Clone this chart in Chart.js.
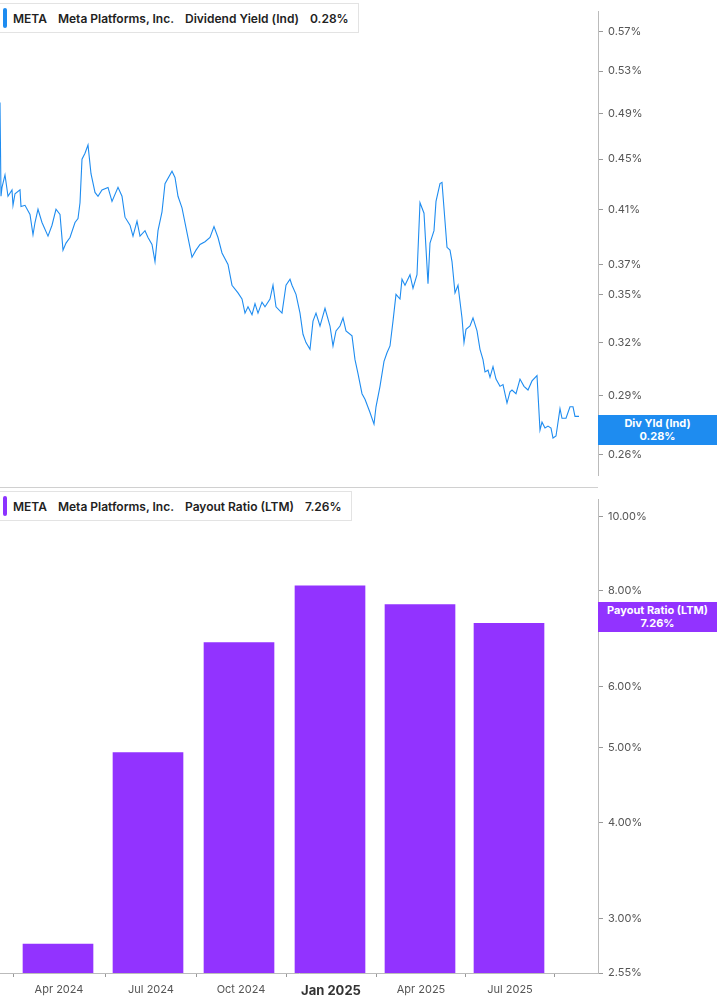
<!DOCTYPE html>
<html>
<head>
<meta charset="utf-8">
<script src="https://cdn.jsdelivr.net/npm/chart.js@4"></script>
<style>
  body { margin: 0; width: 717px; height: 1005px; position: relative; background: #fff; font-family: Inter, "Open Sans", sans-serif; overflow: hidden; }
  #top { position: absolute; left: 0; top: 0; }
  #bottom { position: absolute; left: 0; top: 488px; }
  .sep { position: absolute; left: 0; top: 487px; width: 598px; height: 1px; background: #d0d0d0; }
  .legend { position: absolute; left: 0; height: 28px; background: #fff; border: 1px solid #e3e3e3; border-left: none; font-size: 12px; font-weight: 600; color: #222; display: flex; align-items: center; padding: 0 9px 0 13px; }
  .legend:before { content: ""; position: absolute; left: 3px; top: 4px; bottom: 4px; width: 4px; border-radius: 2px; }
  .legend span { margin-right: 11px; }
  .legend span:last-child { margin-right: 0; }
  #leg1 { top: 3px; } #leg1:before { background: #1e8cf0; }
  #leg2 { top: 491px; } #leg2:before { background: #8c33ff; }
  .tag { position: absolute; left: 598px; width: 119px; color: #fff; font-size: 11px; font-weight: 700; text-align: center; line-height: 13px; padding: 2px 0; }
  #tag1 { top: 415px; background: #1e8cf0; }
  #tag2 { top: 602px; background: #9233ff; }
</style>
</head>
<body>
<canvas id="top" width="717" height="487"></canvas>
<canvas id="bottom" width="717" height="517"></canvas>
<div class="sep"></div>
<div class="legend" id="leg1"><span>META</span><span>Meta Platforms, Inc.</span><span>Dividend Yield (Ind)</span><span>0.28%</span></div>
<div class="legend" id="leg2"><span>META</span><span>Meta Platforms, Inc.</span><span>Payout Ratio (LTM)</span><span>7.26%</span></div>
<div class="tag" id="tag1">Div Yld (Ind)<br>0.28%</div>
<div class="tag" id="tag2">Payout Ratio (LTM)<br>7.26%</div>
<script>
// dividend yield series (x = day index)
const yieldDays = [0,1,2,5,8,12,13,15,20,21,25,30,33,35,38,42,48,52,56,60,63,66,70,75,78,80,82,85,88,91,95,98,102,108,112,118,122,125,130,133,137,140,145,148,152,155,158,162,165,172,175,178,182,188,192,196,200,205,210,214,218,222,228,232,238,242,245,248,252,255,258,262,265,270,273,276,282,286,290,292,296,300,303,306,310,313,316,320,325,330,333,336,340,343,346,352,355,358,362,365,370,374,376,380,384,387,390,393,396,400,402,405,410,413,417,420,424,428,430,434,436,440,442,445,447,450,452,455,458,462,464,466,470,473,477,480,483,485,488,490,493,496,500,503,507,510,512,516,520,524,528,532,537,540,542,545,548,551,553,556,560,562,566,570,573,575,579];
const yieldVals = [0.50,0.42,0.427,0.437,0.42,0.425,0.413,0.422,0.425,0.412,0.413,0.406,0.391,0.40,0.41,0.40,0.39,0.398,0.41,0.406,0.38,0.385,0.389,0.40,0.403,0.415,0.45,0.455,0.462,0.438,0.423,0.42,0.425,0.427,0.416,0.427,0.42,0.404,0.398,0.39,0.401,0.39,0.394,0.389,0.384,0.372,0.394,0.408,0.43,0.44,0.435,0.42,0.411,0.389,0.375,0.38,0.384,0.386,0.389,0.397,0.389,0.378,0.37,0.356,0.351,0.347,0.338,0.342,0.337,0.344,0.338,0.345,0.342,0.347,0.356,0.342,0.338,0.356,0.36,0.356,0.35,0.338,0.325,0.32,0.316,0.333,0.338,0.33,0.341,0.33,0.318,0.327,0.33,0.335,0.327,0.324,0.31,0.302,0.291,0.288,0.281,0.275,0.284,0.295,0.309,0.314,0.318,0.333,0.35,0.347,0.36,0.356,0.363,0.354,0.363,0.415,0.407,0.357,0.385,0.394,0.416,0.43,0.431,0.401,0.382,0.38,0.372,0.351,0.356,0.335,0.32,0.328,0.33,0.335,0.327,0.316,0.31,0.303,0.304,0.30,0.306,0.299,0.295,0.296,0.286,0.292,0.293,0.291,0.299,0.295,0.293,0.298,0.301,0.272,0.276,0.273,0.274,0.273,0.268,0.269,0.283,0.278,0.278,0.284,0.284,0.279,0.279];
const yieldTicks = [0.26,0.29,0.32,0.35,0.37,0.41,0.45,0.49,0.53,0.57];

// payout ratio (quarterly)
const payoutDays = [58,148,239,330,420,509];
const payoutVals = [2.78,4.93,6.85,8.12,7.68,7.26];
const payoutTicks = [2.55,3,4,5,6,8,10];

const monthLabels = ["Apr 2024","Jul 2024","Oct 2024","Jan 2025","Apr 2025","Jul 2025"];
const monthDays = [59,151,241,331,421,510];

const tickColor = "#555";
const axisFont = { family: "Inter", size: 11 };

function rightAxis(min, max, ticks) {
    return {
        type: "logarithmic", position: "right", min: min, max: max,
        afterBuildTicks: ax => { ax.ticks = ticks.map(v => ({ value: v })); },
        afterFit: ax => { ax.width = 119; },
        grid: { display: true, drawOnChartArea: false, tickLength: 5, color: "#999" },
        border: { display: true, color: "#bbb" },
        ticks: { color: tickColor, font: axisFont, padding: 5, callback: v => v.toFixed(2) + "%" }
    };
}

new Chart(document.getElementById("top"), {
    type: "line",
    data: { datasets: [{
        data: yieldDays.map((d, i) => ({ x: d, y: yieldVals[i] })),
        borderColor: "#1e8cf0", borderWidth: 1.1, pointRadius: 0, tension: 0
    }]},
    options: {
        responsive: false, animation: false,
        layout: { padding: 0 },
        plugins: { legend: { display: false }, tooltip: { enabled: false } },
        scales: {
            x: { type: "linear", min: 0, max: 598, display: false },
            y: rightAxis(0.252, 0.592, yieldTicks)
        }
    }
});

new Chart(document.getElementById("bottom"), {
    type: "bar",
    data: { datasets: [{
        data: payoutDays.map((d, i) => ({ x: d, y: payoutVals[i] })),
        backgroundColor: "#9233ff", barThickness: 70
    }]},
    options: {
        responsive: false, animation: false,
        layout: { padding: 0 },
        plugins: { legend: { display: false }, tooltip: { enabled: false } },
        scales: {
            x: {
                type: "linear", min: 0, max: 598, offset: false,
                afterBuildTicks: ax => { ax.ticks = monthDays.map(v => ({ value: v })); },
                afterFit: ax => { ax.height = 32; },
                grid: { display: true, drawOnChartArea: false, tickLength: 4, color: "#999" },
                border: { display: true, color: "#bbb" },
                ticks: {
                    color: ctx => ctx.index === 3 ? "#333" : tickColor,
                    font: ctx => ctx.index === 3 ? { family: "Inter", size: 13, weight: "bold" } : axisFont,
                    maxRotation: 0, autoSkip: false, padding: 6,
                    callback: (v, i) => monthLabels[i]
                }
            },
            y: rightAxis(2.55, 10.51, payoutTicks)
        }
    }
});
</script>
</body>
</html>
